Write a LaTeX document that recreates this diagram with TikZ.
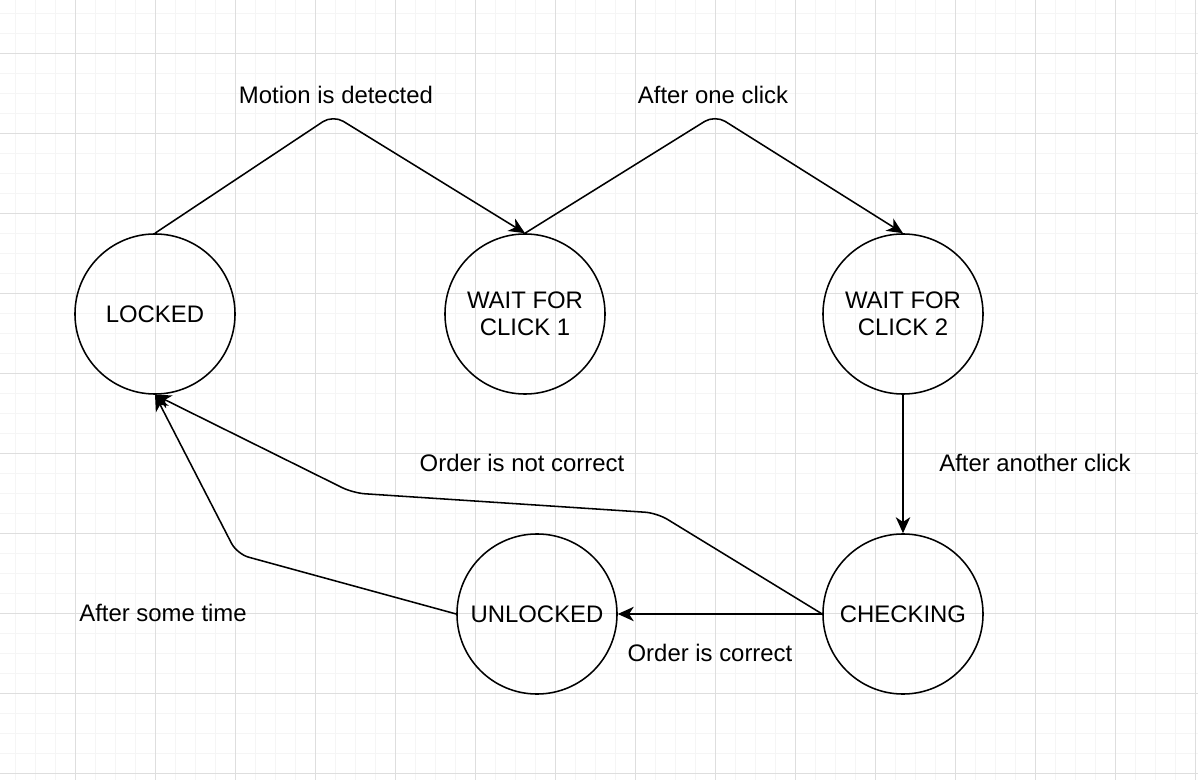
\documentclass[tikz,border=0pt]{standalone}
\usepackage{fontspec}
\setmainfont{Liberation Sans}
\usetikzlibrary{arrows.meta}

\begin{document}
\begin{tikzpicture}[x=0.025cm, y=-0.025cm,
		minorline/.style={line width=0.7pt, color=black!4},
		majorline/.style={line width=0.7pt, color=black!13},
		state/.style={draw, circle, line width=1.1pt, minimum size=4cm, inner sep=0pt, align=center, font=\fontsize{17}{19.2}\selectfont},
		lbl/.style={inner sep=0pt, font=\fontsize{17}{19.2}\selectfont},
		edge/.style={line width=1.1pt, rounded corners=0.3cm, -{Stealth[length=0.4cm, width=0.36cm, inset=0.12cm]}}]
			%%%%% START %%%%%
			
			\useasboundingbox (0, 0) rectangle (1198, 780);
			\fill[white] (0, 0) rectangle (1198, 780);
			
			\foreach \x in {15,35,...,1195} \draw[minorline] (\x, 0) -- (\x, 780);
			\foreach \y in {13,33,...,773} \draw[minorline] (0, \y) -- (1198, \y);
			\foreach \x in {75,155,...,1195} \draw[majorline] (\x, 0) -- (\x, 780);
			\foreach \y in {53,133,...,773} \draw[majorline] (0, \y) -- (1198, \y);
			
			\node[state] (locked) at (155, 314) {LOCKED};
			\node[state] (wait1) at (525, 314) {WAIT FOR\\CLICK 1};
			\node[state] (wait2) at (903, 314) {WAIT FOR\\CLICK 2};
			\node[state] (checking) at (903, 614) {CHECKING};
			\node[state] (unlocked) at (537, 614) {UNLOCKED};
			
			\draw[edge] (locked.north) -- (333, 115) -- (wait1.north);
			\draw[edge] (wait1.north) -- (715, 115) -- (wait2.north);
			\draw[edge] (wait2) -- (checking);
			\draw[edge] (checking) -- (unlocked);
			\draw[edge] (checking.west) -- (657, 513) -- (353, 493) -- (locked.south);
			\draw[edge] (unlocked.west) -- (237, 554) -- (locked.south);
			
			\node[lbl] (motion) at (336, 95) {Motion is detected};
			\node[lbl] (oneclick) at (713, 95) {After one click};
			\node[lbl] (another) at (1035, 463) {After another click};
			\node[lbl] (notcorrect) at (522, 463) {Order is not correct};
			\node[lbl] (sometime) at (163, 613) {After some time};
			\node[lbl] (correct) at (710, 653) {Order is correct};
			
			%%%%% END %%%%%
\end{tikzpicture}
\end{document}
